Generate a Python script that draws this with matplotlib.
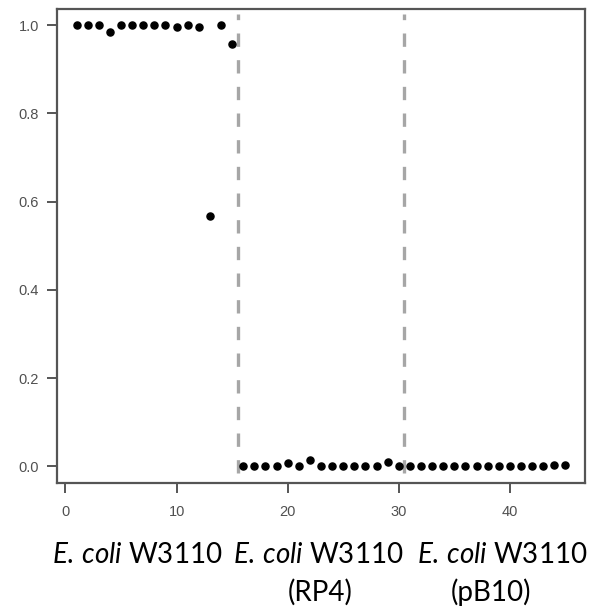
import matplotlib
matplotlib.use("Agg")
import matplotlib.pyplot as plt
import numpy as np

# fraction values per isolate, three strains of 15 each
strains = ["E. coli W3110", "E. coli W3110 (RP4)", "E. coli W3110 (pB10)"]
w3110 = [1.0, 1.0, 1.0, 0.985, 1.0, 1.0, 1.0, 1.0, 1.0, 0.997, 1.0, 0.997,
         0.568, 1.0, 0.958]
rp4 = [0.0, 0.0, 0.0, 0.0, 0.008, 0.0, 0.015, 0.0, 0.0, 0.0, 0.0, 0.0,
       0.0, 0.009, 0.0]
pb10 = [0.0, 0.0, 0.0, 0.0, 0.0, 0.0, 0.0, 0.0, 0.0, 0.0, 0.0, 0.0,
        0.0, 0.002, 0.002]
group_breaks = [15.5, 30.5]

values = w3110 + rp4 + pb10
idx = np.arange(1, len(values) + 1)

plt.rcParams["mathtext.fontset"] = "custom"
plt.rcParams["mathtext.it"] = "Lato:italic"
plt.rcParams["mathtext.rm"] = "Lato"

fig = plt.figure(figsize=(6.04, 6.08), dpi=100)
ax = fig.add_axes([0.0944, 0.2056, 0.8742, 0.7791])

spine_col = "#555555"
for s in ax.spines.values():
    s.set_color(spine_col)
    s.set_linewidth(1.6)

# dashed separators between strains
ax.vlines(group_breaks, -0.015, 1.025, colors="#a6a6a6", linewidth=2.4,
          linestyles=(0, (4, 4)))
ax.scatter(idx, values, s=26, color="black", zorder=3)

ax.set_xlim(-0.76, 46.76)
ax.set_ylim(-0.038, 1.036)
ax.set_xticks([0, 10, 20, 30, 40])
ax.set_yticks([0.0, 0.2, 0.4, 0.6, 0.8, 1.0])
ax.set_yticklabels(["0.0", "0.2", "0.4", "0.6", "0.8", "1.0"])
ax.tick_params(length=7.5, width=1.4, color=spine_col, labelcolor="#505050",
               labelsize=10.5)
ax.tick_params(axis="x", pad=8.5)
ax.tick_params(axis="y", pad=5.5)
for lab in ax.get_xticklabels() + ax.get_yticklabels():
    lab.set_family("Liberation Sans")

lab_style = dict(fontsize=20, ha="center", va="center", family="Lato")
label1 = r"$\mathit{E.\,coli}$ W3110"
fig.text(0.228, 0.087, label1, **lab_style)
fig.text(0.527, 0.087, label1, **lab_style)
fig.text(0.831, 0.087, label1, **lab_style)
fig.text(0.530, 0.026, "(RP4)", **lab_style)
fig.text(0.813, 0.026, "(pB10)", **lab_style)

fig.savefig("out.png", dpi=100)
